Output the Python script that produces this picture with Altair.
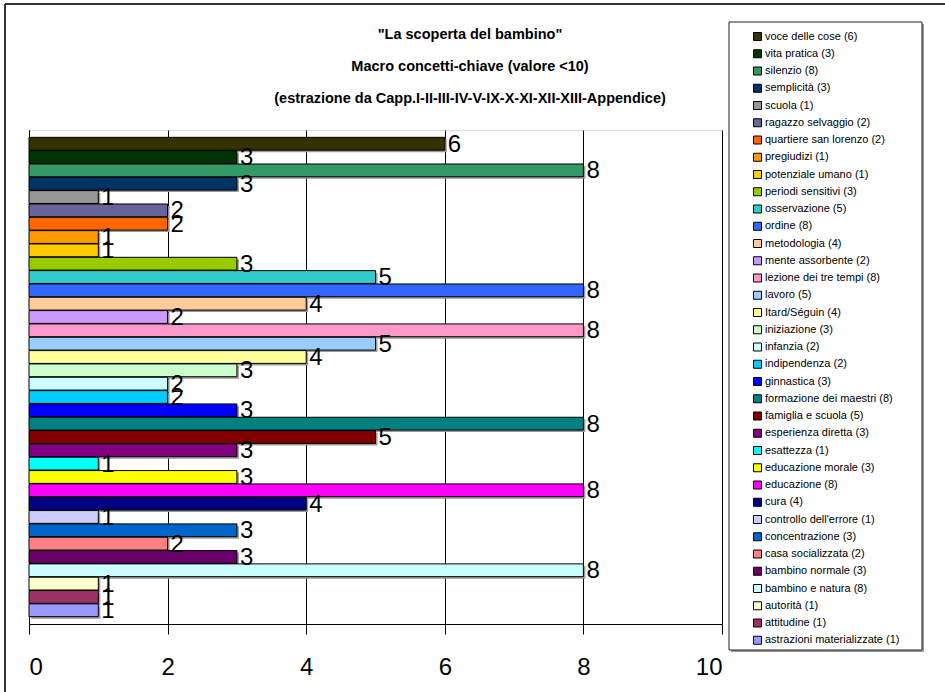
import altair as alt
import pandas as pd

# Concepts in display order (top bar first) and their occurrence counts
concepts = [
    "voce delle cose", "vita pratica", "silenzio", "semplicità", "scuola",
    "ragazzo selvaggio", "quartiere san lorenzo", "pregiudizi", "potenziale umano",
    "periodi sensitivi", "osservazione", "ordine", "metodologia", "mente assorbente",
    "lezione dei tre tempi", "lavoro", "Itard/Séguin", "iniziazione", "infanzia",
    "indipendenza", "ginnastica", "formazione dei maestri", "famiglia e scuola",
    "esperienza diretta", "esattezza", "educazione morale", "educazione", "cura",
    "controllo dell'errore", "concentrazione", "casa socializzata", "bambino normale",
    "bambino e natura", "autorità", "attitudine", "astrazioni materializzate",
]
counts = [6, 3, 8, 3, 1, 2, 2, 1, 1, 3, 5, 8, 4, 2, 8, 5, 4, 3, 2, 2, 3, 8, 5, 3,
          1, 3, 8, 4, 1, 3, 2, 3, 8, 1, 1, 1]
palette = [
    "#333300", "#003300", "#339966", "#003366", "#969696", "#666699", "#FF6600",
    "#FF9900", "#FFCC00", "#99CC00", "#33CCCC", "#3366FF", "#FFCC99", "#CC99FF",
    "#FF99CC", "#99CCFF", "#FFFF99", "#CCFFCC", "#CCFFFF", "#00CCFF", "#0000FF",
    "#008080", "#800000", "#800080", "#00FFFF", "#FFFF00", "#FF00FF", "#000080",
    "#CCCCFF", "#0066CC", "#FF8080", "#660066", "#CCFFFF", "#FFFFCC", "#993366",
    "#9999FF",
]
title_lines = [
    '"La scoperta del bambino"',
    "Macro concetti-chiave (valore <10)",
    "(estrazione da Capp.I-II-III-IV-V-IX-X-XI-XII-XIII-Appendice)",
]
x_ticks = [0, 2, 4, 6, 8, 10]

FONT = "Liberation Sans, Arial, sans-serif"

legend_labels = [f"{c} ({n})" for c, n in zip(concepts, counts)]
df = pd.DataFrame({"concetto": concepts, "valore": counts, "voce": legend_labels})
single = alt.Data(values=[{}])  # one datum for decorations drawn once

PLOT_W, PLOT_H = 693, 494

y_enc = alt.Y(
    "concetto:N",
    sort=concepts,
    scale=alt.Scale(paddingInner=0.04, paddingOuter=0.55),
    axis=alt.Axis(labels=False, ticks=False, title=None, domainColor="black",
                  grid=False),
)
x_scale = alt.Scale(domain=[0, 10], nice=False, zero=True)

base = alt.Chart(df)

shadow = base.mark_bar(color="#9a9a9a", xOffset=2, yOffset=2).encode(
    x=alt.X("valore:Q", scale=x_scale),
    y=y_enc,
)

bars = base.mark_bar(stroke="black", strokeWidth=1).encode(
    x=alt.X(
        "valore:Q",
        scale=x_scale,
        axis=alt.Axis(
            values=x_ticks, format="d", title=None, grid=True, gridColor="black",
            gridOpacity=1, gridWidth=1, domainColor="black", tickColor="black",
            tickSize=10, labelFont=FONT, labelFontSize=24, labelColor="black",
            labelPadding=21,
        ),
    ),
    y=y_enc,
    color=alt.Color(
        "voce:N",
        scale=alt.Scale(domain=legend_labels, range=palette),
        legend=alt.Legend(
            title=None, orient="none", legendX=723, legendY=-99,
            symbolType="square", symbolSize=64, symbolStrokeColor="black",
            symbolStrokeWidth=1, symbolOpacity=1, symbolLimit=0,
            labelFont=FONT, labelFontSize=11, labelColor="black",
            labelOffset=2, rowPadding=4.25, padding=0, labelLimit=300,
        ),
    ),
)

values_text = base.mark_text(
    align="left", baseline="middle", dx=3, dy=1, font=FONT, fontSize=24,
    color="black",
).encode(
    x=alt.X("valore:Q", scale=x_scale),
    y=y_enc,
    text="valore:Q",
)

# Three-line heading above the bars
heading = alt.Chart(single).mark_text(
    text=title_lines, font=FONT, fontSize=14.5, fontWeight="bold", color="black",
    align="center", baseline="top", lineHeight=32,
).encode(x=alt.value(441), y=alt.value(-102))

# Legend frame (with its drop shadow) and the outer chart frame
legend_shadow = alt.Chart(single).mark_rect(fill="#9a9a9a").encode(
    x=alt.value(702), x2=alt.value(895), y=alt.value(-106), y2=alt.value(522)
)
legend_box = alt.Chart(single).mark_rect(fill="white", stroke="#222222", strokeWidth=1).encode(
    x=alt.value(700), x2=alt.value(893), y=alt.value(-108), y2=alt.value(520)
)
frame_top = alt.Chart(single).mark_rule(color="#333333", strokeWidth=2).encode(
    x=alt.value(-24), x2=alt.value(916), y=alt.value(-126)
)
frame_left = alt.Chart(single).mark_rule(color="#333333", strokeWidth=2).encode(
    x=alt.value(-24), y=alt.value(-126), y2=alt.value(562)
)

chart = (
    alt.layer(frame_top, frame_left, legend_shadow, legend_box, heading,
              shadow, bars, values_text)
    .properties(
        width=PLOT_W,
        height=PLOT_H,
        autosize=alt.AutoSizeParams(type="none"),
        padding={"left": 29, "top": 130, "right": 223, "bottom": 68},
    )
    .configure_view(stroke=None)
    .configure(background="white")
)

chart.save("out.html", embed_options={"renderer": "svg", "actions": False})
